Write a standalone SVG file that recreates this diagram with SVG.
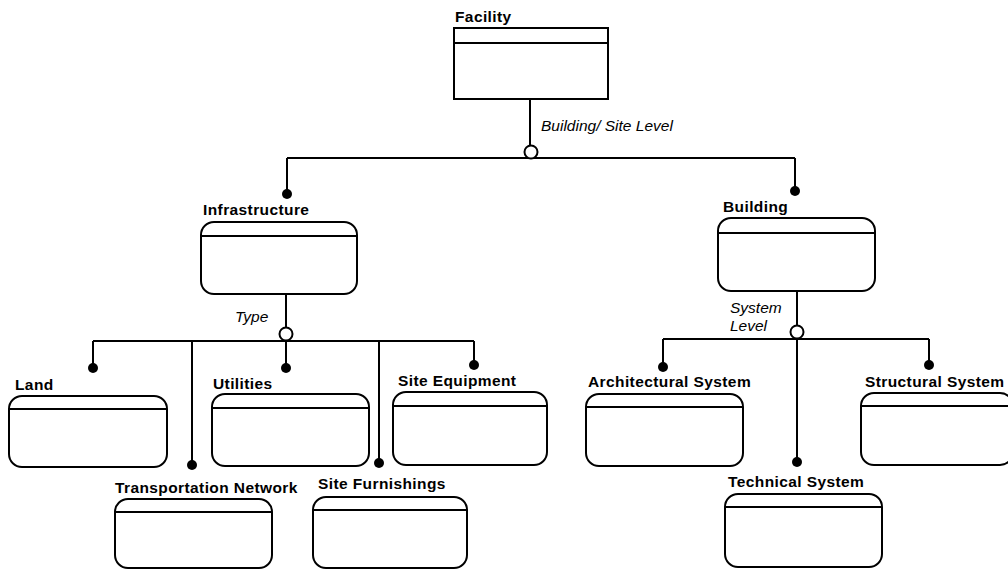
<svg xmlns="http://www.w3.org/2000/svg" width="1008" height="571" viewBox="0 0 1008 571">
<style>
.box{fill:#fff;stroke:#000;stroke-width:2}
.hdr{stroke:#000;stroke-width:2}
.ln{fill:none;stroke:#000;stroke-width:2}
.dot{fill:#000}
.oc{fill:#fff;stroke:#000;stroke-width:2}
.lbl{font-family:"Liberation Sans",Arial,sans-serif;font-weight:bold;font-size:15.5px;letter-spacing:0.4px;fill:#000}
.rl{font-family:"Liberation Sans",Arial,sans-serif;font-style:italic;font-size:15.5px;fill:#000}
</style>
<rect width="1008" height="571" fill="#fff"/>
<g id="connectors">
  <path class="ln" d="M530 99 V152 M287 158 H795 M287 158 V194 M795 158 V191"/>
  <path class="ln" d="M286 294 V333 M93 341 H474 M93 341 V368 M192 341 V465 M286 341 V368 M379 341 V463 M474 341 V365"/>
  <path class="ln" d="M797 291 V332 M663 339 H929 M663 339 V367 M797 339 V462 M929 339 V365"/>
  <circle class="dot" cx="287" cy="194" r="5"/>
  <circle class="dot" cx="795" cy="191" r="5"/>
  <circle class="dot" cx="93" cy="368" r="5"/>
  <circle class="dot" cx="192" cy="465" r="5"/>
  <circle class="dot" cx="286" cy="368" r="5"/>
  <circle class="dot" cx="379" cy="463" r="5"/>
  <circle class="dot" cx="474" cy="365" r="5"/>
  <circle class="dot" cx="663" cy="367" r="5"/>
  <circle class="dot" cx="797" cy="462" r="5"/>
  <circle class="dot" cx="929" cy="365" r="5"/>
  <circle class="oc" cx="531" cy="152" r="6.5"/>
  <circle class="oc" cx="286" cy="334" r="6.5"/>
  <circle class="oc" cx="797" cy="332" r="6.5"/>
  <text class="rl" x="541" y="131">Building/ Site Level</text>
  <text class="rl" x="235" y="322">Type</text>
  <text class="rl" x="730" y="313">System</text>
  <text class="rl" x="730" y="331">Level</text>
</g>
<g id="facility">
  <text class="lbl" x="455" y="22">Facility</text>
  <rect class="box" x="454" y="28" width="154" height="71"/>
  <line class="hdr" x1="454" y1="43" x2="608" y2="43"/>
</g>
<g id="infrastructure">
  <text class="lbl" x="203" y="215">Infrastructure</text>
  <rect class="box" x="201" y="222" width="156" height="72" rx="13"/>
  <line class="hdr" x1="201" y1="236" x2="357" y2="236"/>
</g>
<g id="building">
  <text class="lbl" x="723" y="212">Building</text>
  <rect class="box" x="718" y="218" width="157" height="73" rx="13"/>
  <line class="hdr" x1="718" y1="233" x2="875" y2="233"/>
</g>
<g id="land">
  <text class="lbl" x="15" y="390">Land</text>
  <rect class="box" x="9" y="396" width="158" height="71" rx="13"/>
  <line class="hdr" x1="9" y1="409" x2="167" y2="409"/>
</g>
<g id="utilities">
  <text class="lbl" x="213" y="389">Utilities</text>
  <rect class="box" x="212" y="394" width="157" height="72" rx="13"/>
  <line class="hdr" x1="212" y1="408" x2="369" y2="408"/>
</g>
<g id="site-equipment">
  <text class="lbl" x="398" y="386">Site Equipment</text>
  <rect class="box" x="393" y="392" width="154" height="73" rx="13"/>
  <line class="hdr" x1="393" y1="406" x2="547" y2="406"/>
</g>
<g id="transportation-network">
  <text class="lbl" x="115" y="493">Transportation Network</text>
  <rect class="box" x="115" y="499" width="157" height="69" rx="13"/>
  <line class="hdr" x1="115" y1="512" x2="272" y2="512"/>
</g>
<g id="site-furnishings">
  <text class="lbl" x="318" y="489">Site Furnishings</text>
  <rect class="box" x="313" y="497" width="154" height="71" rx="13"/>
  <line class="hdr" x1="313" y1="510" x2="467" y2="510"/>
</g>
<g id="architectural-system">
  <text class="lbl" x="588" y="387">Architectural System</text>
  <rect class="box" x="586" y="394" width="157" height="72" rx="13"/>
  <line class="hdr" x1="586" y1="407" x2="743" y2="407"/>
</g>
<g id="structural-system">
  <text class="lbl" x="865" y="387">Structural System</text>
  <rect class="box" x="861" y="393" width="152" height="72" rx="13"/>
  <line class="hdr" x1="861" y1="406" x2="1013" y2="406"/>
</g>
<g id="technical-system">
  <text class="lbl" x="728" y="487">Technical System</text>
  <rect class="box" x="725" y="494" width="157" height="73" rx="13"/>
  <line class="hdr" x1="725" y1="507" x2="882" y2="507"/>
</g>
</svg>
